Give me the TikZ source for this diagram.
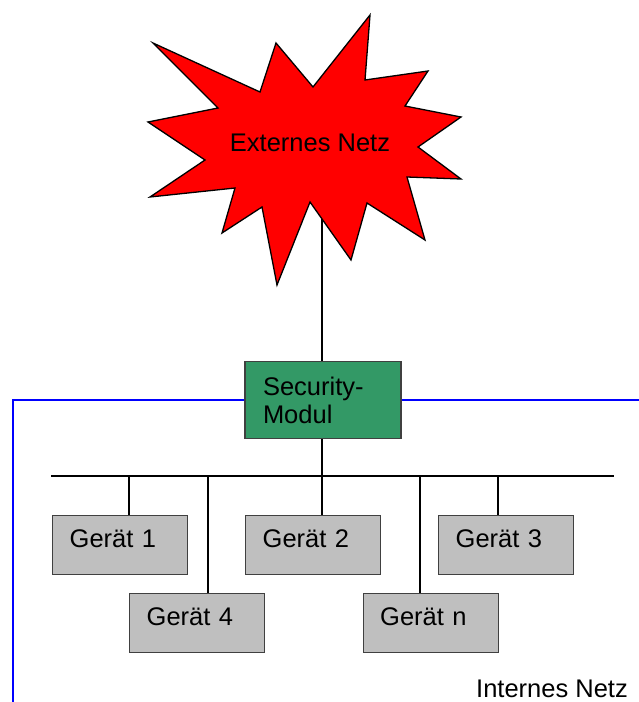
\documentclass[tikz,border=0pt]{standalone}
\usepackage{fontspec}
\setmainfont{Liberation Sans}
\begin{document}
\begin{tikzpicture}[x=1pt,y=-1pt,
  txt/.style={font=\fontsize{25.5}{28}\selectfont, inner sep=0pt},
  device/.style={txt, draw=black!75, line width=1.4pt, fill=black!25, anchor=north west,
    text width=101pt, inner xsep=17pt, inner ysep=14pt, text height=18pt, text depth=13pt, align=left},
  secbox/.style={txt, draw=black!75, line width=1.4pt, fill=secgreen, minimum width=156pt, minimum height=77pt,
    text width=120pt, inner xsep=18pt, align=left},
  wire/.style={draw=black, line width=1.3pt},
  bluewire/.style={draw=blue, line width=2pt}
]
\definecolor{secgreen}{RGB}{51,153,102}
\useasboundingbox (0,0) rectangle (639,702);

% security module and connector from star (drawn first, covered by star)
\coordinate (starc) at (322,190);
\coordinate (bTL) at (13,400);
\coordinate (bBL) at (13,702);
\coordinate (bR) at (639,400);
\node[secbox] (sec) at (323,400) {Security-\\Modul};
\draw[wire] (starc) -- (starc |- sec.north);

% blue internal network boundary
\draw[bluewire] (sec.west) -- (bTL) -- (bBL);
\draw[bluewire] (sec.east) -- (bR);

% star
\draw[line width=1.3pt, fill=red, line join=miter]
  (153,43) -- (260,92) -- (276,43) -- (313,87) -- (370,15) -- (365,80) --
  (428,71) -- (405,106) -- (461,117) -- (418,147) -- (461,179) -- (407,177) --
  (425,240) -- (367,203) -- (351,260) -- (310,202) -- (277,285) -- (262,207) --
  (222,233) -- (235,188) -- (150,197) -- (205,160) -- (148,122) -- (218,108) -- cycle;
\node[txt, anchor=base] (ext) at (310,151) {Externes Netz};

% devices
\node[device] (g1) at (52,515) {Gerät 1};
\node[device] (g2) at (245,515) {Gerät 2};
\node[device] (g3) at (438,515) {Gerät 3};
\node[device] (g4) at (129,592.5) {Gerät 4};
\node[device] (gn) at (362.5,592.5) {Gerät n};

% bus
\coordinate (busL) at (51,476);
\coordinate (busR) at (614,476);
\draw[wire] (busL) -- (busR);
\coordinate (d1) at (129,476);
\coordinate (d4) at (208,476);
\coordinate (d2) at (322,476);
\coordinate (dn) at (420,476);
\coordinate (d3) at (498,476);
\draw[wire] (sec.south -| d2) -- (d2);
\draw[wire] (d1) -- (d1 |- g1.north);
\draw[wire] (d4) -- (d4 |- g4.north);
\draw[wire] (d2) -- (d2 |- g2.north);
\draw[wire] (dn) -- (dn |- gn.north);
\draw[wire] (d3) -- (d3 |- g3.north);

\node[txt, anchor=base west] (int) at (476,697) {Internes Netz};
\end{tikzpicture}
\end{document}
